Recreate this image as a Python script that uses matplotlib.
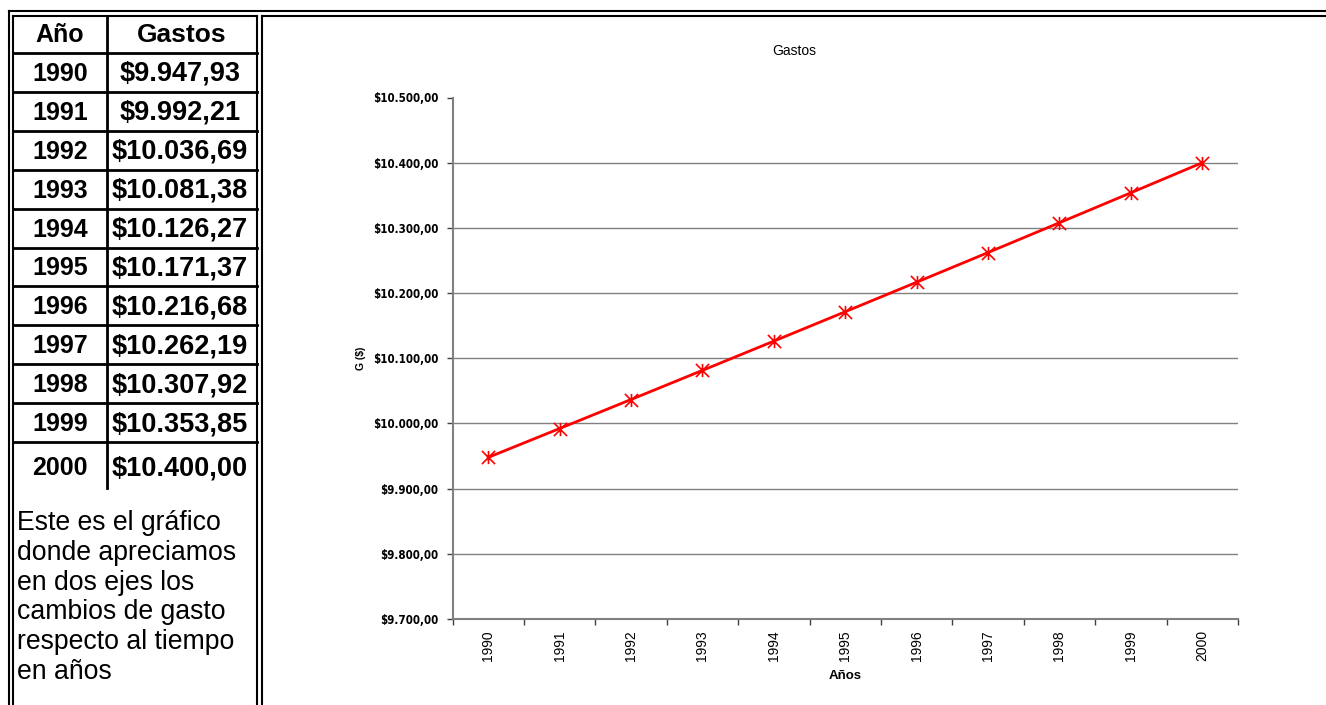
import numpy as np
import matplotlib.pyplot as plt
from matplotlib.path import Path
from matplotlib import font_manager

# datos de la tabla / grafico
years = ['1990', '1991', '1992', '1993', '1994', '1995',
         '1996', '1997', '1998', '1999', '2000']
gastos = [9947.93, 9992.21, 10036.69, 10081.38, 10126.27, 10171.37,
          10216.68, 10262.19, 10307.92, 10353.85, 10400.00]
y_ticks = [9700, 9800, 9900, 10000, 10100, 10200, 10300, 10400, 10500]
nota = ['Este es el gráfico', 'donde apreciamos', 'en dos ejes los',
        'cambios de gasto', 'respecto al tiempo', 'en años']


def pesos(v):
    # formato $10.500,00
    s = f"{v:,.2f}".replace(',', ' ').replace('.', ',').replace(' ', '.')
    return '$' + s


plt.rcParams['font.family'] = ['Liberation Sans', 'DejaVu Sans']

# fuente condensada para el eje y, si existe
cond = font_manager.FontProperties(family='DejaVu Sans', stretch='condensed', weight='bold')
if 'Condensed' in font_manager.findfont(cond, fallback_to_default=False):
    ytick_font = dict(family='DejaVu Sans', stretch='condensed', fontweight='bold', fontsize=8.3)
else:
    ytick_font = dict(family='Liberation Sans', fontweight='bold', fontsize=8.6)

fig = plt.figure(figsize=(13.26, 7.05), dpi=100)

# capa en pixeles para los bordes y la tabla
frame = fig.add_axes([0, 0, 1, 1])
frame.set_xlim(0, 1326)
frame.set_ylim(705, 0)
frame.axis('off')


def seg(x0, y0, x1, y1, lw=1.5):
    frame.plot([x0, x1], [y0, y1], color='black', lw=lw,
               solid_capstyle='projecting', clip_on=False)


# doble borde exterior y de celdas
seg(8.5, 10.5, 1330, 10.5)
seg(8.5, 10.5, 8.5, 710)
seg(13, 15.5, 256.5, 15.5)
seg(13, 15.5, 13, 710)
seg(256.5, 15.5, 256.5, 710)
seg(262, 15.5, 1330, 15.5)
seg(262, 15.5, 262, 710)

# tabla Año / Gastos
row_h = 38.9
top = 53
seg(13, top, 256.5, top, lw=2)
seg(107, 15.5, 107, 488, lw=2)
frame.text(60, 35, 'Año', ha='center', va='center', fontsize=18, fontweight='bold')
frame.text(181.5, 35, 'Gastos', ha='center', va='center', fontsize=19, fontweight='bold')
for i, (yr, g) in enumerate(zip(years, gastos)):
    y0 = top + i * row_h
    if i < len(years) - 1:
        yc = y0 + row_h / 2 + 1.5
        seg(13, y0 + row_h, 256.5, y0 + row_h, lw=2)
    else:
        yc = 468
    frame.text(60, yc, yr, ha='center', va='center', fontsize=18, fontweight='bold')
    frame.text(180, yc, pesos(g), ha='center', va='center', fontsize=19.5, fontweight='bold')

for i, linea in enumerate(nota):
    frame.text(17, 530 + i * 29.8, linea, ha='left', va='baseline', fontsize=19.2)

# grafico
ax = fig.add_axes([452.5 / 1326, 86 / 705, 785.5 / 1326, 521.5 / 705])
x = np.arange(len(years))

asterisco = Path([(0, -1), (0, 1), (-1, -1), (1, 1), (-1, 1), (1, -1)],
                 [Path.MOVETO, Path.LINETO, Path.MOVETO, Path.LINETO, Path.MOVETO, Path.LINETO])
ax.plot(x, gastos, color='red', lw=2, marker=asterisco, ms=9.5, mew=1.2,
        mec='red', clip_on=False, zorder=3)

ax.set_xlim(-0.5, len(years) - 0.5)
ax.set_ylim(y_ticks[0], y_ticks[-1])
for v in y_ticks[1:-1]:
    ax.axhline(v, color='#808080', lw=1, zorder=1)

ax.set_yticks(y_ticks)
ax.set_yticklabels([pesos(v) for v in y_ticks], **ytick_font)
ax.set_xticks(np.arange(len(years) + 1) - 0.5)
ax.set_xticklabels([])
ax.set_xticks(x, minor=True)
ax.set_xticklabels(years, minor=True, rotation=90, fontsize=10)
ax.tick_params(axis='x', which='minor', length=0, pad=8)
ax.tick_params(which='major', length=4, width=1, color='#404040')
ax.tick_params(axis='y', pad=6)

for s in ['top', 'right']:
    ax.spines[s].set_visible(False)
for s in ['left', 'bottom']:
    ax.spines[s].set_color('#808080')
    ax.spines[s].set_linewidth(1.5)

ax.set_xlabel('Años', fontsize=9.5, fontweight='bold')
ax.xaxis.set_label_coords(0.5, -0.097)
ax.set_ylabel('G ($)', fontsize=7.5, fontweight='bold')
ax.yaxis.set_label_coords(-0.110, 0.5)

fig.text(794 / 1326, 1 - 51 / 705, 'Gastos', ha='center', va='center', fontsize=10)

fig.savefig('out.png', dpi=100)
